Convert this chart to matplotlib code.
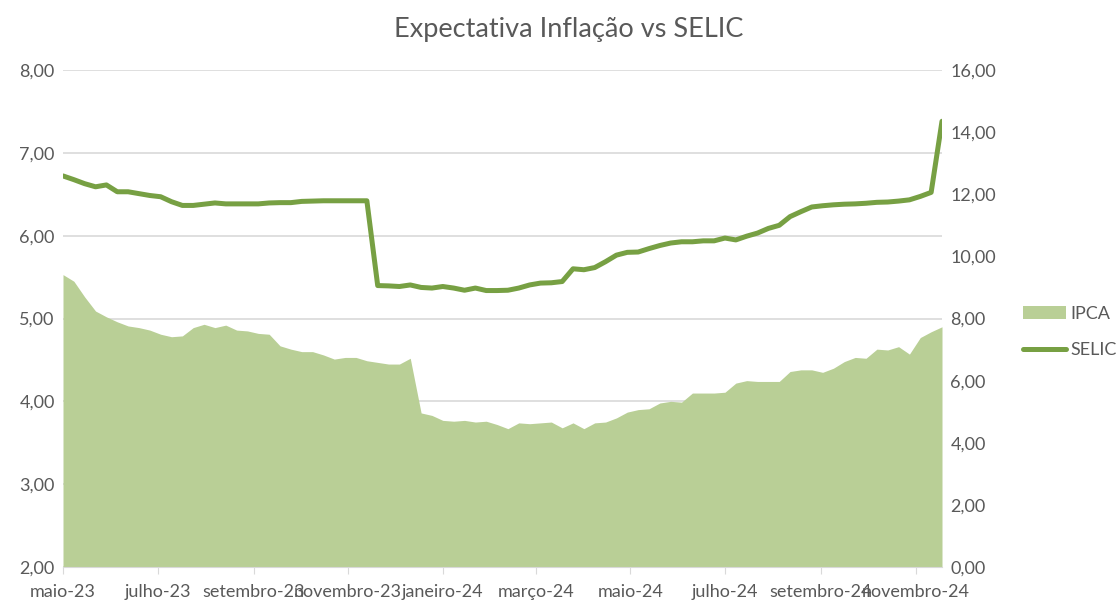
import matplotlib
matplotlib.use("Agg")
import matplotlib.pyplot as plt
from matplotlib.ticker import FuncFormatter
import pandas as pd

plt.rcParams['font.family'] = ['Lato', 'DejaVu Sans']

# weekly expectations, May-2023 to Nov-2024
dates = pd.date_range('2023-05-01', periods=82, freq='7D')

ipca = [5.53, 5.45, 5.26, 5.09, 5.02, 4.96, 4.91, 4.89, 4.86, 4.81,
        4.78, 4.79, 4.89, 4.93, 4.89, 4.92, 4.86, 4.85, 4.82, 4.81,
        4.67, 4.63, 4.60, 4.60, 4.56, 4.51, 4.53, 4.53, 4.49, 4.47,
        4.45, 4.45, 4.52, 3.86, 3.83, 3.77, 3.76, 3.77, 3.75, 3.76,
        3.72, 3.67, 3.74, 3.73, 3.74, 3.75, 3.68, 3.74, 3.67, 3.74,
        3.75, 3.80, 3.87, 3.90, 3.91, 3.98, 4.00, 3.99, 4.10, 4.10,
        4.10, 4.11, 4.22, 4.25, 4.24, 4.24, 4.24, 4.36, 4.38, 4.38,
        4.35, 4.40, 4.48, 4.53, 4.52, 4.63, 4.62, 4.66, 4.57, 4.77,
        4.84, 4.90]

selic = [12.59, 12.47, 12.34, 12.24, 12.30, 12.08, 12.08, 12.02, 11.96, 11.92,
         11.76, 11.64, 11.64, 11.68, 11.72, 11.69, 11.69, 11.69, 11.69, 11.72,
         11.73, 11.73, 11.77, 11.78, 11.79, 11.79, 11.79, 11.79, 11.79, 9.06,
         9.05, 9.03, 9.08, 9.00, 8.98, 9.03, 8.98, 8.91, 8.98, 8.90,
         8.90, 8.91, 8.98, 9.08, 9.14, 9.15, 9.19, 9.60, 9.57, 9.64,
         9.83, 10.04, 10.13, 10.14, 10.25, 10.35, 10.43, 10.47, 10.47, 10.50,
         10.50, 10.59, 10.53, 10.65, 10.75, 10.90, 11.00, 11.28, 11.44, 11.59,
         11.63, 11.66, 11.68, 11.69, 11.71, 11.74, 11.75, 11.78, 11.82, 11.93,
         12.06, 14.35]

tick_dates = pd.date_range('2023-05-01', '2024-11-01', freq='2MS')
tick_labels = ['maio-23', 'julho-23', 'setembro-23', 'novembro-23', 'janeiro-24',
               'março-24', 'maio-24', 'julho-24', 'setembro-24', 'novembro-24']

grey = '#595959'
gridc = '#d9d9d9'
area_c = '#b9cf96'
line_c = '#77a043'

fig = plt.figure(figsize=(11.18, 6.02), dpi=100)
ax = fig.add_axes([63/1118, 1-567/602, (942-63)/1118, (567-70)/602])
ax2 = ax.twinx()

ax.fill_between(dates, 2, ipca, color=area_c, lw=0, label='IPCA')
ax2.plot(dates, selic, color=line_c, lw=3.6, solid_capstyle='round', label='SELIC')

ax.set_ylim(2, 8)
ax.set_yticks([2, 3, 4, 5, 6, 7, 8])
ax2.set_ylim(0, 16)
ax2.set_yticks(range(0, 17, 2))
fmt = FuncFormatter(lambda v, p: f'{v:.2f}'.replace('.', ','))
ax.yaxis.set_major_formatter(fmt)
ax2.yaxis.set_major_formatter(fmt)

ax.set_xlim(dates[0], dates[-1])
ax.set_xticks(tick_dates)
ax.set_xticklabels(tick_labels)

ax.set_axisbelow(True)
ax.grid(axis='y', color=gridc, lw=1.2)
ax.grid(axis='x', visible=False)

for a in (ax, ax2):
    for s in a.spines.values():
        s.set_visible(False)
ax.spines['bottom'].set_visible(True)
ax.spines['bottom'].set_color(gridc)
ax.tick_params(axis='y', length=0, labelsize=13, labelcolor=grey, pad=6)
ax2.tick_params(axis='y', length=0, labelsize=13, labelcolor=grey, pad=6)
ax.tick_params(axis='x', length=5, color=gridc, labelsize=13, labelcolor=grey, pad=7)

fig.suptitle('Expectativa Inflação vs SELIC', x=0.509, y=0.972, fontsize=19.5,
             color=grey, va='top')

h1, l1 = ax.get_legend_handles_labels()
h2, l2 = ax2.get_legend_handles_labels()
fig.legend(h1 + h2, l1 + l2, loc='center left', bbox_to_anchor=(1010/1118, 1-332/602),
           frameon=False, fontsize=13, labelcolor=grey, handlelength=2.4,
           labelspacing=1.1, handletextpad=0.25, borderpad=0.2)

fig.savefig('out.png', dpi=100)
